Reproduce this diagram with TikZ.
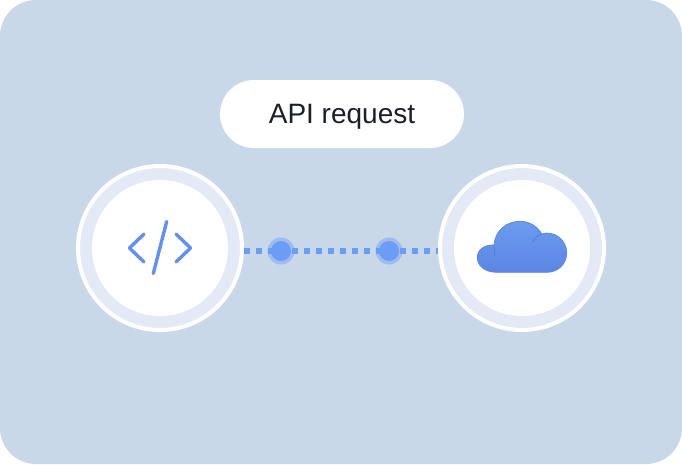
\documentclass[tikz,border=0pt]{standalone}
\usepackage{fontspec}
\setmainfont{Liberation Sans}
\definecolor{panelblue}{HTML}{C9D8E9}
\definecolor{ringblue}{HTML}{E3EAF5}
\definecolor{iconblue}{HTML}{6491EC}
\definecolor{dotblue}{HTML}{6B9CF6}
\definecolor{cloudtop}{HTML}{6C9BEE}
\definecolor{cloudbottom}{HTML}{5B85E4}
\definecolor{cloudline}{HTML}{5F88E0}
\definecolor{cloudfold}{HTML}{5279D6}
\definecolor{inkblack}{HTML}{1C1F26}
\tikzset{
	outerring/.style={circle, draw=white, line width=4pt, fill=ringblue, minimum size=164pt, inner sep=0pt},
	innerdisc/.style={circle, fill=white, minimum size=136pt, inner sep=0pt},
	hophalo/.style={circle, fill=dotblue, fill opacity=0.45, minimum size=27pt, inner sep=0pt},
	hopdot/.style={circle, fill=dotblue, minimum size=20pt, inner sep=0pt},
	pill/.style={rounded corners=34pt, fill=white, minimum width=244pt, minimum height=68pt, inner sep=0pt},
	dotline/.style={draw=dotblue, line width=6pt, dash pattern=on 6pt off 6pt},
	codeline/.style={draw=iconblue, line width=3.4pt, line cap=round, line join=round}
}
\begin{document}
\begin{tikzpicture}[x=1pt, y=-1pt]
	\useasboundingbox (0,0) rectangle (682,464);
	% Background panel
	\fill[panelblue, rounded corners=36pt] (0,0) rectangle (682,464);
	
	% Label
	\node[pill, font=\fontsize{28}{32}\selectfont, text=inkblack, text depth=0pt] (label) at (342,114) {API request};
	
	% Both end circles
	\node[outerring] (client) at (160,248) {};
	\node[innerdisc] (clientdisc) at (client.center) {};
	\node[outerring] (server) at (522,248) {};
	\node[innerdisc] (serverdisc) at (server.center) {};
	
	% Dotted link and the two dots on it
	\draw[dotline] ([yshift=-3pt]client.east) -- ([yshift=-3pt]server.west);
	\node[hophalo] (haloa) at (281,251) {};
	\node[hophalo] (halob) at (389,251) {};
	\node[hopdot] (hopa) at (281,251) {};
	\node[hopdot] (hopb) at (389,251) {};
	
	% Code icon
	\draw[codeline] (144,234) -- (129.5,248) -- (144,262);
	\draw[codeline] (176,234) -- (190.5,248) -- (176,262);
	\draw[codeline] (166.7,221.5) -- (153.3,273.5);
	
	% Cloud icon
	\draw[draw=cloudline, line width=0.8pt, top color=cloudtop, bottom color=cloudbottom]
		(497,272.3) .. controls (484,272.3) and (477.3,265) .. (477.3,257.5)
		.. controls (477.3,250) and (484,244.6) .. (494,245)
		.. controls (495,231) and (506,221.3) .. (520,221.3)
		.. controls (530,221.3) and (538,227) .. (541.7,234)
		.. controls (553,230) and (566.7,239) .. (566.7,253)
		.. controls (566.7,264) and (558,272.3) .. (546.7,272.3)
		-- cycle;
	\draw[cloudfold, line width=0.7pt] (494,245) -- (495,256);
	\draw[cloudfold, line width=0.7pt] (541.7,234) .. controls (537,235.5) and (534.5,238.5) .. (532.7,241.7);
\end{tikzpicture}
\end{document}
